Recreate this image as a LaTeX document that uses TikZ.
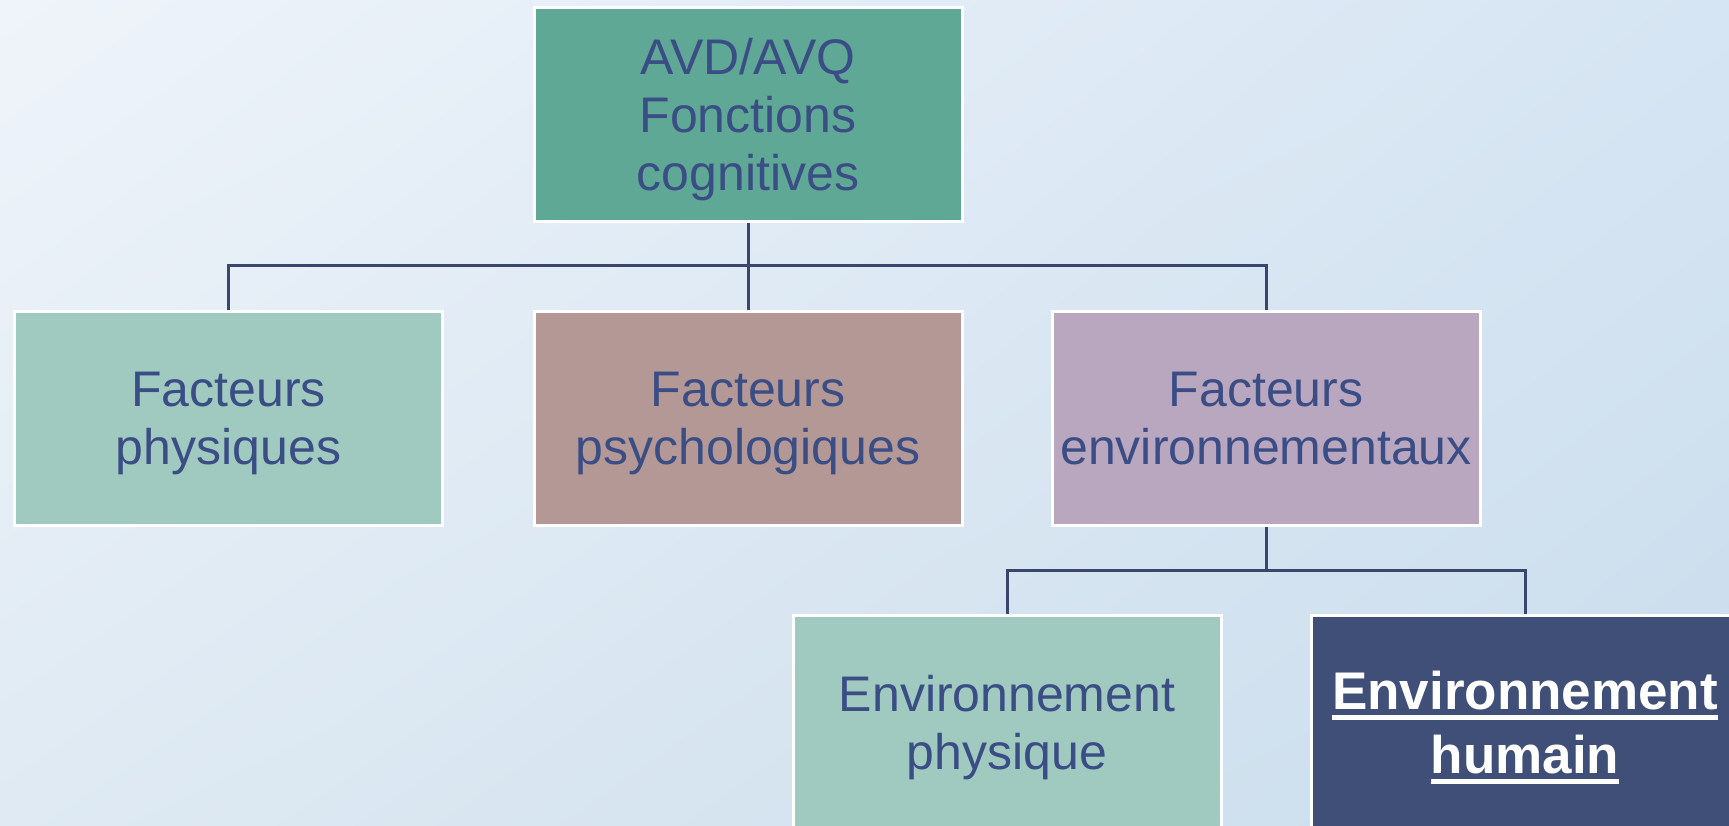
\documentclass[tikz,border=0pt]{standalone}
\usepackage{fontspec}
\setmainfont{Liberation Sans}
\usetikzlibrary{shadings}
\definecolor{topfill}{HTML}{5FA895}
\definecolor{tealfill}{HTML}{A0C9BF}
\definecolor{rosefill}{HTML}{B39896}
\definecolor{lavfill}{HTML}{B9A6BF}
\definecolor{navyfill}{HTML}{404F78}
\definecolor{txtblue}{HTML}{3A4D85}
\definecolor{linecol}{HTML}{3B466F}
\definecolor{bgA}{HTML}{EFF4FA}
\definecolor{bgB}{HTML}{D6E5F3}
\definecolor{bgC}{HTML}{DFEAF3}
\definecolor{bgD}{HTML}{C9DCEC}
\newcommand\myul[1]{\setbox0\hbox{#1}\rlap{\rule[-10pt]{\wd0}{4.5pt}}\box0}
\tikzset{
  box/.style={rectangle, draw=white, line width=3pt, inner sep=0pt,
    minimum width=428pt, minimum height=214pt, align=center, text depth=0pt,
    text=txtblue, font=\fontsize{50}{58}\selectfont},
  conn/.style={draw=linecol, line width=3pt}
}
\begin{document}
\begin{tikzpicture}[x=1pt,y=-1pt]
\useasboundingbox (0,0) rectangle (1729,826);
\clip (0,0) rectangle (1729,826);
\shade[upper left=bgA, upper right=bgB, lower left=bgC, lower right=bgD] (0,0) rectangle (1729,826);
\node[box, fill=topfill] (top) at (748,114.5) {AVD/AVQ\\Fonctions\\cognitives};
\node[box, fill=tealfill] (b1) at (228.5,418.5) {Facteurs\\physiques};
\node[box, fill=rosefill] (b2) at (748,418.5) {Facteurs\\psychologiques};
\node[box, fill=lavfill] (b3) at (1266,418.5) {Facteurs\\environnementaux};
\node[box, fill=tealfill] (b4) at (1007,722.5) {Environnement\\physique};
\node[box, fill=navyfill, text=white, font=\fontsize{53}{64}\selectfont\bfseries] (b5) at (1525,722.5) {\myul{Environnement}\\\myul{humain}};
\coordinate (j1) at (748,266);
\coordinate (j2) at (1266,570);
\draw[conn] (top.south) -- (b2.north);
\draw[conn] (b1.north) |- (j1) -| (b3.north);
\draw[conn] (b3.south) -- (j2);
\draw[conn] (b4.north) |- (j2) -| (b5.north);
\end{tikzpicture}
\end{document}
